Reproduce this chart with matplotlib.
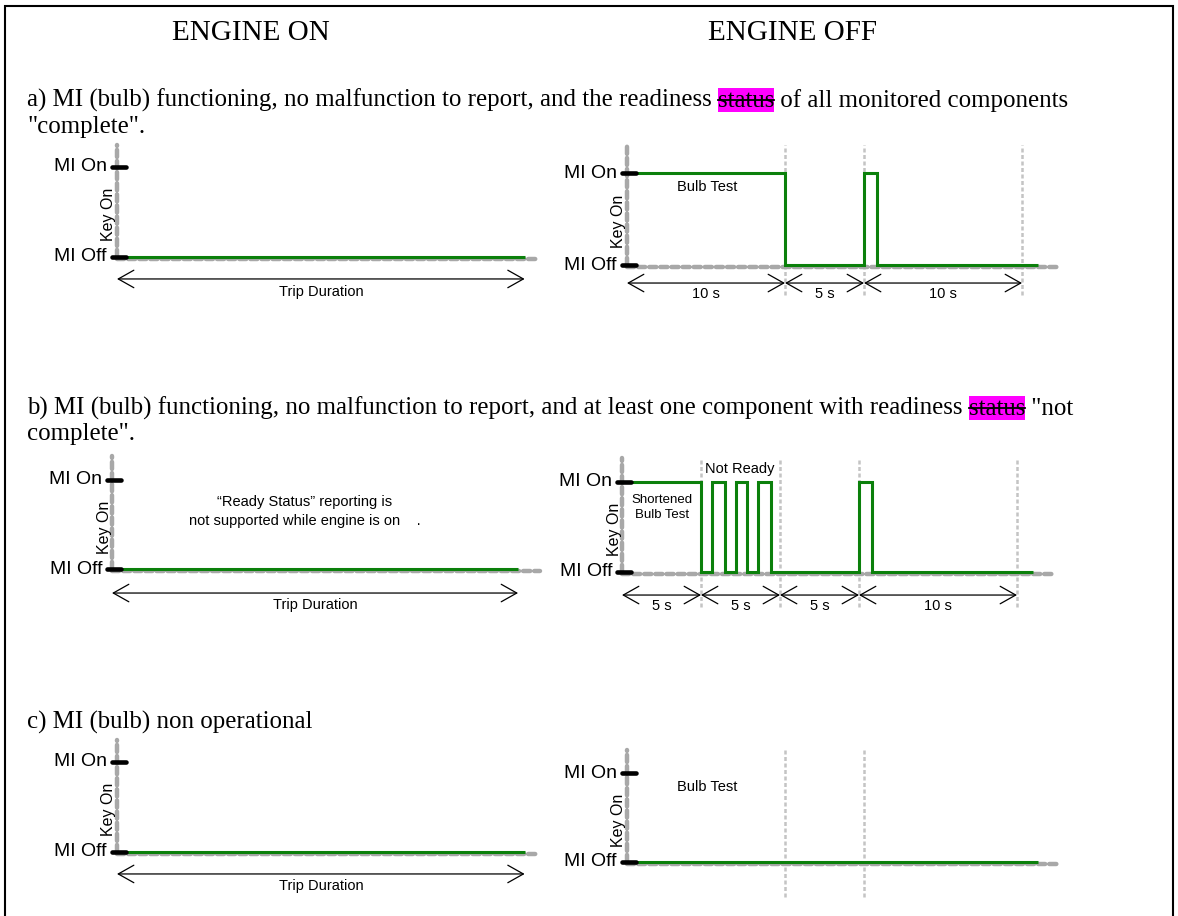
import matplotlib
matplotlib.use("Agg")
import matplotlib.pyplot as plt
from matplotlib.font_manager import FontProperties
from matplotlib.patches import Rectangle

W, H = 1178, 916
PX_PER_S = 15.8          # pixels per second on the time axis
GREEN = "#0b800b"
GRAY = "#a8a8a8"
LIGHT = "#c4c4c4"
MAGENTA = "#ff00ff"

# ---- data -------------------------------------------------------------
# engine off, MI state (1 = on, 0 = off) between the edge times (s)
a_off_edges = [0, 10, 15, 15.8, 26]
a_off_states = [1, 0, 1, 0]
b_off_edges = [0, 5, 5.7, 6.5, 7.2, 7.9, 8.6, 9.4, 15, 15.8, 26]
b_off_states = [1, 0, 1, 0, 1, 0, 1, 0, 1, 0]
c_off_edges = [0, 26]
c_off_states = [0]

# engine on, trip duration (arbitrary units on the same scale)
a_on_edges = [0, 25.8]
b_on_edges = [0, 25.7]
c_on_edges = [0, 25.8]
on_states = [0]

# timing markers and the duration arrows below the off charts
a_marks = [10, 15, 25]
b_marks = [5, 10, 15, 25]
c_marks = [10, 15]
a_span_edges = [0, 10, 15, 25]
a_span_labels = ["10 s", "5 s", "10 s"]
b_span_edges = [0, 5, 10, 15, 25]
b_span_labels = ["5 s", "5 s", "5 s", "10 s"]

header_a = [("a) MI (bulb) functioning, no malfunction to report, and the readiness ", False),
            ("status", True),
            (" of all monitored components", False)]
header_a2 = '"complete".'
header_b = [("b) MI (bulb) functioning, no malfunction to report, and at least one component with readiness ", False),
            ("status", True),
            (' "not', False)]
header_b2 = 'complete".'
header_c = "c) MI (bulb) non operational"

SERIF = "Liberation Serif"
SANS = "Liberation Sans"
BODY = 17.9

fig = plt.figure(figsize=(W / 100, H / 100), dpi=100)
bg = fig.add_axes([0, 0, 1, 1])
bg.set_xlim(0, W)
bg.set_ylim(H, 0)
bg.axis("off")

# frame
bg.plot([5, 5, 1173, 1173], [H + 5, 6, 6, H + 5], color="black", lw=1.5, solid_joinstyle="miter")

bg.text(251, 40, "ENGINE ON", family=SERIF, size=21, ha="center", va="baseline")
bg.text(792, 40, "ENGINE OFF", family=SERIF, size=21, ha="center", va="baseline")

renderer = fig.canvas.get_renderer()


def rich_line(x, y, parts, size=BODY):
    fp = FontProperties(family=SERIF, size=size)
    px = size * 100 / 72

    def width(s):
        w1 = renderer.get_text_width_height_descent("x" + s + "x", fp, ismath=False)[0]
        w0 = renderer.get_text_width_height_descent("xx", fp, ismath=False)[0]
        return w1 - w0

    for s, hl in parts:
        w = width(s)
        if hl:
            bg.add_patch(Rectangle((x, y - 0.78 * px), w, 0.98 * px, color=MAGENTA, lw=0, zorder=1))
            bg.plot([x, x + w], [y - 0.27 * px] * 2, color="black", lw=1.3, zorder=3)
        bg.text(x, y, s, fontproperties=fp, va="baseline", ha="left", zorder=2)
        x += w


rich_line(27, 107, header_a)
bg.text(27, 133, header_a2, family=SERIF, size=BODY, va="baseline")
rich_line(27, 415, header_b)
bg.text(27, 440, header_b2, family=SERIF, size=BODY, va="baseline")
bg.text(27, 729, header_c, family=SERIF, size=BODY, va="baseline")


def panel(ox, y_on, y_off, t_min=-8, t_max=29, lo=-0.7, hi=1.5):
    h = y_off - y_on
    left = ox + t_min * PX_PER_S
    right = ox + t_max * PX_PER_S
    top = y_on - (hi - 1) * h
    bot = y_off - lo * h
    ax = fig.add_axes([left / W, 1 - bot / H, (right - left) / W, (bot - top) / H])
    ax.set_xlim(t_min, t_max)
    ax.set_ylim(lo, hi)
    ax.axis("off")
    return ax


def levels(ax, key_top, dash_end):
    dash = dict(color=GRAY, lw=3.2, ls=(0, (1.6, 0.9)), dash_capstyle="round", zorder=2, clip_on=False)
    ax.plot([0, 0], [0, key_top], **dash)
    ax.plot([0, dash_end], [-0.02, -0.02], **dash)
    for lvl in (0, 1):
        ax.plot([-0.32, 0.57], [lvl, lvl], color="black", lw=3.3, solid_capstyle="round", zorder=6, clip_on=False)
    ax.text(-10 / PX_PER_S, 1, "MI On", family=SANS, size=14, ha="right", va="center")
    ax.text(-10 / PX_PER_S, 0, "MI Off", family=SANS, size=14, ha="right", va="center")
    ax.text(-8 / PX_PER_S, 0.47, "Key On", family=SANS, size=11.5, rotation=90, ha="center", va="center")


def arrow(ax, x0, x1, y):
    ax.annotate("", xy=(x1, y), xytext=(x0, y),
                arrowprops=dict(arrowstyle="<->,head_length=0.8,head_width=0.45", lw=0.9,
                                color="black", shrinkA=0, shrinkB=0, mutation_scale=14))


def marks(ax, xs, top, bottom):
    for x in xs:
        ax.plot([x, x], [bottom, top], color=LIGHT, lw=1.8, ls=(0, (1.6, 1.0)), zorder=1, clip_on=False)


def spans(ax, edges, labels, y_arrow, y_text):
    for i, lab in enumerate(labels):
        arrow(ax, edges[i], edges[i + 1], y_arrow)
        ax.text((edges[i] + edges[i + 1]) / 2, y_text, lab, family=SANS, size=10.5, ha="center", va="center")


def on_chart(ax, edges, key_top, dash_end, y_arrow, y_text):
    levels(ax, key_top, dash_end)
    ax.stairs(on_states, edges, baseline=None, color=GREEN, lw=2.2, zorder=4)
    arrow(ax, edges[0], edges[-1], y_arrow)
    ax.text((edges[0] + edges[-1]) / 2, y_text, "Trip Duration", family=SANS, size=10.5, ha="center", va="center")


def off_chart(ax, edges, states, key_top):
    levels(ax, key_top, 27.2)
    ax.stairs(states, edges, baseline=None, color=GREEN, lw=2.2, zorder=4)


# a) engine on / off
ax = panel(117, 167, 257)
on_chart(ax, a_on_edges, 1.24, 26.6, -0.244, -0.39)

ax = panel(627, 173, 265)
off_chart(ax, a_off_edges, a_off_states, 1.30)
marks(ax, a_marks, 1.30, -0.33)
spans(ax, a_span_edges, a_span_labels, -0.196, -0.31)
ax.text(5.06, 0.85, "Bulb Test", family=SANS, size=10.5, ha="center", va="center")

# b) engine on / off
ax = panel(112, 480, 569)
on_chart(ax, b_on_edges, 1.27, 27.1, -0.27, -0.40)
ax.text(12.2, 0.75, "\u201cReady Status\u201d reporting is", family=SANS, size=10.5, ha="center", va="center")
ax.text(12.2, 0.54, "not supported while engine is on    .", family=SANS, size=10.5, ha="center", va="center")

ax = panel(622, 482, 572)
off_chart(ax, b_off_edges, b_off_states, 1.27)
marks(ax, b_marks, 1.27, -0.39)
spans(ax, b_span_edges, b_span_labels, -0.256, -0.38)
ax.text(7.47, 1.14, "Not Ready", family=SANS, size=10.5, ha="center", va="center")
ax.text(2.53, 0.72, "Shortened\nBulb Test", family=SANS, size=9.5, ha="center", va="center", linespacing=1.3)

# c) engine on / off
ax = panel(117, 762, 852)
on_chart(ax, c_on_edges, 1.24, 26.6, -0.244, -0.38)

ax = panel(627, 773, 862)
off_chart(ax, c_off_edges, c_off_states, 1.26)
marks(ax, c_marks, 1.26, -0.39)
ax.text(5.06, 0.84, "Bulb Test", family=SANS, size=10.5, ha="center", va="center")

fig.savefig("out.png", dpi=100)
